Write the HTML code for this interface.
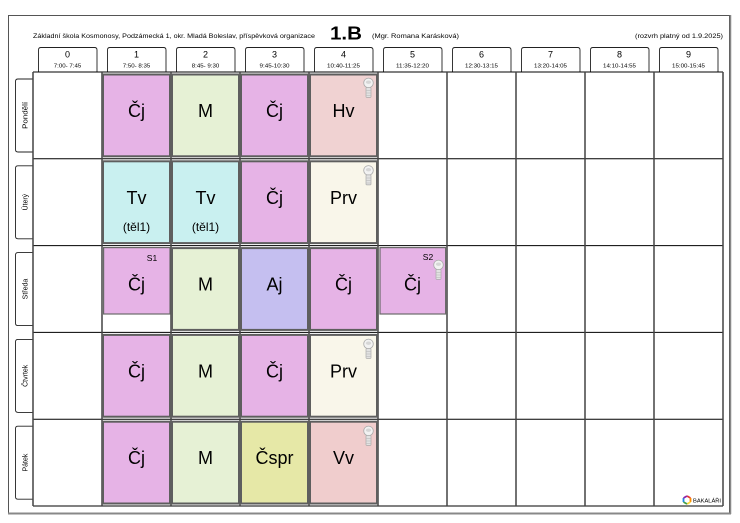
<!DOCTYPE html>
<html><head><meta charset="utf-8"><style>
html,body{margin:0;padding:0;background:#fff;}
svg{display:block;}
text{font-family:"Liberation Sans",sans-serif;fill:#000;}
</style></head><body>
<svg width="740" height="523" viewBox="0 0 740 523" xmlns="http://www.w3.org/2000/svg">
<defs>
<g id="key">
<circle cx="0" cy="4.9" r="4.8" fill="#f2f2f2" stroke="#aaa" stroke-width="0.8"/>
<ellipse cx="0" cy="4.2" rx="2.6" ry="1.7" fill="#d6d6d6"/>
<rect x="-2.5" y="9.4" width="5" height="10" rx="0.8" fill="#e2e2e2" stroke="#aaa" stroke-width="0.7"/>
<line x1="-2.5" y1="12.5" x2="2.5" y2="12.5" stroke="#bbb" stroke-width="0.6"/>
<line x1="-2.5" y1="15" x2="2.5" y2="15" stroke="#bbb" stroke-width="0.6"/>
<line x1="-2.5" y1="17.5" x2="2.5" y2="17.5" stroke="#bbb" stroke-width="0.6"/>
</g>
</defs>
<!-- outer border -->
<rect x="8.5" y="15.5" width="721" height="497.5" fill="#fff" stroke="#555" stroke-width="1"/>
<line x1="8" y1="513.5" x2="731" y2="513.5" stroke="#888" stroke-width="2"/>
<line x1="730.5" y1="15" x2="730.5" y2="514" stroke="#888" stroke-width="1.5"/>

<!-- title -->
<text x="33" y="38" font-size="6.8" textLength="282" lengthAdjust="spacingAndGlyphs">Základní škola Kosmonosy, Podzámecká 1, okr. Mladá Boleslav, příspěvková organizace</text>
<text x="330" y="39.3" font-size="18" font-weight="bold" textLength="32" lengthAdjust="spacingAndGlyphs">1.B</text>
<text x="372" y="38" font-size="6.5" textLength="87" lengthAdjust="spacingAndGlyphs">(Mgr. Romana Karásková)</text>
<text x="635" y="38" font-size="6.8" textLength="88" lengthAdjust="spacingAndGlyphs">(rozvrh platný od 1.9.2025)</text>

<!-- header tabs -->
<g fill="#fff" stroke="#222" stroke-width="0.9">
<path d="M38.5,72 V50 Q38.5,47.5 41,47.5 H94.5 Q97,47.5 97,50 V72"/>
<path d="M107.5,72 V50 Q107.5,47.5 110,47.5 H163.5 Q166,47.5 166,50 V72"/>
<path d="M176.5,72 V50 Q176.5,47.5 179,47.5 H232.5 Q235,47.5 235,50 V72"/>
<path d="M245.5,72 V50 Q245.5,47.5 248,47.5 H301.5 Q304,47.5 304,50 V72"/>
<path d="M314.5,72 V50 Q314.5,47.5 317,47.5 H370.5 Q373,47.5 373,50 V72"/>
<path d="M383.5,72 V50 Q383.5,47.5 386,47.5 H439.5 Q442,47.5 442,50 V72"/>
<path d="M452.5,72 V50 Q452.5,47.5 455,47.5 H508.5 Q511,47.5 511,50 V72"/>
<path d="M521.5,72 V50 Q521.5,47.5 524,47.5 H577.5 Q580,47.5 580,50 V72"/>
<path d="M590.5,72 V50 Q590.5,47.5 593,47.5 H646.5 Q649,47.5 649,50 V72"/>
<path d="M659.5,72 V50 Q659.5,47.5 662,47.5 H715.5 Q718,47.5 718,50 V72"/>
</g>
<g font-size="9" text-anchor="middle">
<text x="67.5" y="57.5">0</text><text x="136.5" y="57.5">1</text><text x="205.5" y="57.5">2</text><text x="274.5" y="57.5">3</text><text x="343.5" y="57.5">4</text><text x="412.5" y="57.5">5</text><text x="481.5" y="57.5">6</text><text x="550.5" y="57.5">7</text><text x="619.5" y="57.5">8</text><text x="688.5" y="57.5">9</text>
</g>
<g font-size="5.6" text-anchor="middle">
<text x="67.5" y="67.5" textLength="27.5" lengthAdjust="spacingAndGlyphs">7:00- 7:45</text><text x="136.5" y="67.5" textLength="27.5" lengthAdjust="spacingAndGlyphs">7:50- 8:35</text><text x="205.5" y="67.5" textLength="27.5" lengthAdjust="spacingAndGlyphs">8:45- 9:30</text><text x="274.5" y="67.5" textLength="30" lengthAdjust="spacingAndGlyphs">9:45-10:30</text><text x="343.5" y="67.5" textLength="33" lengthAdjust="spacingAndGlyphs">10:40-11:25</text><text x="412.5" y="67.5" textLength="33" lengthAdjust="spacingAndGlyphs">11:35-12:20</text><text x="481.5" y="67.5" textLength="33" lengthAdjust="spacingAndGlyphs">12:30-13:15</text><text x="550.5" y="67.5" textLength="33" lengthAdjust="spacingAndGlyphs">13:20-14:05</text><text x="619.5" y="67.5" textLength="33" lengthAdjust="spacingAndGlyphs">14:10-14:55</text><text x="688.5" y="67.5" textLength="33" lengthAdjust="spacingAndGlyphs">15:00-15:45</text>
</g>

<!-- day tabs -->
<g fill="#fff" stroke="#222" stroke-width="0.9">
<path d="M33,79 H18 Q15.5,79 15.5,81.5 V149.5 Q15.5,152 18,152 H33"/>
<path d="M33,165.8 H18 Q15.5,165.8 15.5,168.3 V236.3 Q15.5,238.8 18,238.8 H33"/>
<path d="M33,252.6 H18 Q15.5,252.6 15.5,255.1 V323.1 Q15.5,325.6 18,325.6 H33"/>
<path d="M33,339.4 H18 Q15.5,339.4 15.5,341.9 V409.9 Q15.5,412.4 18,412.4 H33"/>
<path d="M33,426.2 H18 Q15.5,426.2 15.5,428.7 V496.7 Q15.5,499.2 18,499.2 H33"/>
</g>
<g font-size="7" text-anchor="middle">
<text transform="translate(27.5,115.4) rotate(-90)" textLength="27" lengthAdjust="spacingAndGlyphs">Pondělí</text>
<text transform="translate(27.5,202.2) rotate(-90)">Úterý</text>
<text transform="translate(27.5,289) rotate(-90)">Středa</text>
<text transform="translate(27.5,375.8) rotate(-90)">Čtvrtek</text>
<text transform="translate(27.5,462.6) rotate(-90)">Pátek</text>
</g>

<!-- grid -->
<g stroke="#000" stroke-width="1">
<line x1="33" y1="72" x2="723" y2="72"/>
<line x1="33" y1="158.8" x2="723" y2="158.8"/>
<line x1="33" y1="245.6" x2="723" y2="245.6"/>
<line x1="33" y1="332.4" x2="723" y2="332.4"/>
<line x1="33" y1="419.2" x2="723" y2="419.2"/>
<line x1="33" y1="506" x2="723" y2="506"/>
</g>
<g stroke="#444" stroke-width="1.5">
<line x1="33" y1="72" x2="33" y2="506"/>
<line x1="102" y1="72" x2="102" y2="506"/>
<line x1="171" y1="72" x2="171" y2="506"/>
<line x1="240" y1="72" x2="240" y2="506"/>
<line x1="309" y1="72" x2="309" y2="506"/>
<line x1="378" y1="72" x2="378" y2="506"/>
<line x1="447" y1="72" x2="447" y2="506"/>
<line x1="516" y1="72" x2="516" y2="506"/>
<line x1="585" y1="72" x2="585" y2="506"/>
<line x1="654" y1="72" x2="654" y2="506"/>
<line x1="723" y1="72" x2="723" y2="506"/>
</g>

<!-- lesson cells -->
<g stroke="#5e5e5e" stroke-width="2">
<rect x="103" y="74.5" width="67" height="81.8" fill="#e6b3e6"/>
<rect x="172" y="74.5" width="67" height="81.8" fill="#e6f1d5"/>
<rect x="241" y="74.5" width="67" height="81.8" fill="#e6b3e6"/>
<rect x="310" y="74.5" width="67" height="81.8" fill="#f0d2d2"/>
<rect x="103" y="161.3" width="67" height="81.8" fill="#c9f0f0"/>
<rect x="172" y="161.3" width="67" height="81.8" fill="#c9f0f0"/>
<rect x="241" y="161.3" width="67" height="81.8" fill="#e6b3e6"/>
<rect x="310" y="161.3" width="67" height="81.8" fill="#f9f6ea"/>
<rect x="172" y="248.1" width="67" height="81.8" fill="#e6f1d5"/>
<rect x="241" y="248.1" width="67" height="81.8" fill="#c5bff0"/>
<rect x="310" y="248.1" width="67" height="81.8" fill="#e6b3e6"/>
<rect x="103" y="334.9" width="67" height="81.8" fill="#e6b3e6"/>
<rect x="172" y="334.9" width="67" height="81.8" fill="#e6f1d5"/>
<rect x="241" y="334.9" width="67" height="81.8" fill="#e6b3e6"/>
<rect x="310" y="334.9" width="67" height="81.8" fill="#f9f6ea"/>
<rect x="103" y="421.7" width="67" height="81.8" fill="#e6b3e6"/>
<rect x="172" y="421.7" width="67" height="81.8" fill="#e6f1d5"/>
<rect x="241" y="421.7" width="67" height="81.8" fill="#e6e8a7"/>
<rect x="310" y="421.7" width="67" height="81.8" fill="#f0cdcd"/>
</g>
<g stroke="#6a6a6a" stroke-width="1.2">
<rect x="103.6" y="247.6" width="66.4" height="66.4" fill="#e6b3e6"/>
<rect x="380" y="247.6" width="65.6" height="66.4" fill="#e6b3e6"/>
</g>

<!-- keys -->
<use href="#key" x="368.5" y="78"/>
<use href="#key" x="368.5" y="165.5"/>
<use href="#key" x="438.5" y="260"/>
<use href="#key" x="368.5" y="339"/>
<use href="#key" x="368.5" y="426"/>

<!-- subject texts -->
<g font-size="18" text-anchor="middle">
<text x="136.5" y="117">Čj</text><text x="205.5" y="117">M</text><text x="274.5" y="117">Čj</text><text x="343.5" y="117">Hv</text>
<text x="136.5" y="203.8">Tv</text><text x="205.5" y="203.8">Tv</text><text x="274.5" y="203.8">Čj</text><text x="343.5" y="203.8">Prv</text>
<text x="136.5" y="290.6">Čj</text><text x="205.5" y="290.6">M</text><text x="274.5" y="290.6">Aj</text><text x="343.5" y="290.6">Čj</text><text x="412.5" y="290.6">Čj</text>
<text x="136.5" y="377.4">Čj</text><text x="205.5" y="377.4">M</text><text x="274.5" y="377.4">Čj</text><text x="343.5" y="377.4">Prv</text>
<text x="136.5" y="464.2">Čj</text><text x="205.5" y="464.2">M</text><text x="274.5" y="464.2">Čspr</text><text x="343.5" y="464.2">Vv</text>
</g>
<g font-size="12" text-anchor="middle">
<text x="136.5" y="230.8">(těl1)</text><text x="205.5" y="230.8">(těl1)</text>
</g>
<g font-size="8.5" text-anchor="middle">
<text x="152" y="261">S1</text><text x="428" y="260">S2</text>
</g>

<!-- logo -->
<g transform="translate(687,500)" fill="none" stroke-width="1.8">
<path d="M0,-4 L3.5,-2" stroke="#e53935"/>
<path d="M3.5,-2 L3.5,2" stroke="#fb8c00"/>
<path d="M3.5,2 L0,4" stroke="#fdd835"/>
<path d="M0,4 L-3.5,2" stroke="#43a047"/>
<path d="M-3.5,2 L-3.5,-2" stroke="#1e88e5"/>
<path d="M-3.5,-2 L0,-4" stroke="#8e24aa"/>
</g>
<text x="693" y="502.5" font-size="5.2" fill="#333" textLength="28" lengthAdjust="spacingAndGlyphs">BAKALÁŘI</text>
</svg>
</body></html>
